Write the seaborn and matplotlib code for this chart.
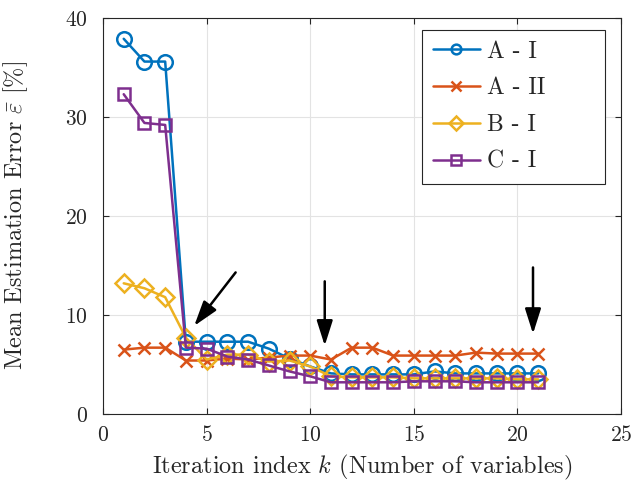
import matplotlib
matplotlib.use("Agg")
import matplotlib.pyplot as plt
import seaborn as sns
import pandas as pd

k = list(range(1, 22))
a_i = [37.9, 35.6, 35.6, 7.3, 7.3, 7.3, 7.3, 6.6, 5.6, 4.8, 4.1, 4.0, 4.0, 4.0, 4.0, 4.3, 4.1, 4.1, 4.1, 4.1, 4.1]
a_ii = [6.5, 6.7, 6.7, 5.4, 5.4, 5.6, 5.5, 5.7, 5.9, 5.9, 5.5, 6.7, 6.7, 5.9, 5.9, 5.9, 5.9, 6.2, 6.1, 6.1, 6.1]
b_i = [13.2, 12.7, 11.8, 7.7, 5.5, 6.0, 6.0, 5.3, 5.4, 4.8, 3.8, 3.7, 3.7, 3.7, 3.6, 3.6, 3.6, 3.6, 3.6, 3.5, 3.5]
c_i = [32.3, 29.4, 29.2, 6.7, 6.6, 5.8, 5.5, 4.9, 4.3, 3.8, 3.2, 3.2, 3.2, 3.2, 3.3, 3.3, 3.3, 3.2, 3.2, 3.2, 3.2]

names = ["A - I", "A - II", "B - I", "C - I"]
series = [a_i, a_ii, b_i, c_i]
colors = ["#0072BD", "#D95319", "#EDB120", "#7E2F8E"]
markers = ["o", "x", "D", "s"]
msizes = [10.5, 9, 9.5, 8.5]

# arrows: (tail x, tail y, head x, head y)
arrows = [(6.4, 14.3, 4.4, 8.9), (10.7, 13.4, 10.7, 6.9), (20.75, 14.8, 20.75, 8.1)]

sns.set_theme(style="whitegrid")
plt.rcParams["font.family"] = ["serif"]
plt.rcParams["font.serif"] = ["cmr10"]
plt.rcParams["mathtext.fontset"] = "cm"
plt.rcParams["axes.formatter.use_mathtext"] = True

df = pd.DataFrame({"k": k * 4,
                   "err": sum(series, []),
                   "method": sum([[n] * len(k) for n in names], [])})

fig = plt.figure(figsize=(6.37, 4.83), dpi=100)
ax = fig.add_axes([0.1617, 0.1429, 0.8133, 0.8198])
ax.set_facecolor("white")

for n, c, m, ms in zip(names, colors, markers, msizes):
    sub = df[df["method"] == n]
    sns.lineplot(data=sub, x="k", y="err", ax=ax, color=c, marker=m,
                 markersize=ms, markerfacecolor="none", markeredgecolor=c,
                 markeredgewidth=1.8, linewidth=1.8, label=n)

for x0, y0, x1, y1 in arrows:
    ax.annotate("", xy=(x1, y1), xytext=(x0, y0),
                arrowprops=dict(arrowstyle="-|>,head_length=0.85,head_width=0.27",
                                color="black", lw=1.8,
                                mutation_scale=18, shrinkA=0, shrinkB=0))

ax.set_xlim(0, 25)
ax.set_ylim(0, 40)
ax.set_xticks([0, 5, 10, 15, 20, 25])
ax.set_yticks([0, 10, 20, 30, 40])
ax.grid(True, color="#e3e3e3", linewidth=0.8)
for s in ax.spines.values():
    s.set_visible(True)
    s.set_color("#262626")
    s.set_linewidth(0.8)
ax.tick_params(axis="both", direction="in", length=4, width=0.8, colors="#262626",
               labelsize=15.5, labelcolor="#262626", top=True, right=True,
               bottom=True, left=True)
ax.tick_params(axis="x", pad=8)
ax.tick_params(axis="y", pad=11)
ax.set_xlabel(r"Iteration index $k$ (Number of variables)", fontsize=17.5, color="#262626")
ax.set_ylabel(r"Mean Estimation Error $\bar{\varepsilon}$ [%]", fontsize=17.5, color="#262626")
ax.xaxis.set_label_coords(0.5, -0.098)
ax.yaxis.set_label_coords(-0.141, 0.5)

leg = ax.legend(loc="upper left", fontsize=17, frameon=True, fancybox=False,
                edgecolor="#262626", framealpha=1, borderpad=0.45,
                handlelength=2.0, labelspacing=0.62, handletextpad=0.3,
                mode="expand", bbox_to_anchor=(0.616, 0.566, 0.353, 0.404),
                borderaxespad=0)
leg.get_frame().set_linewidth(0.8)
for h in leg.legend_handles:
    h.set_markersize(7)

fig.savefig("out.png", dpi=100)
